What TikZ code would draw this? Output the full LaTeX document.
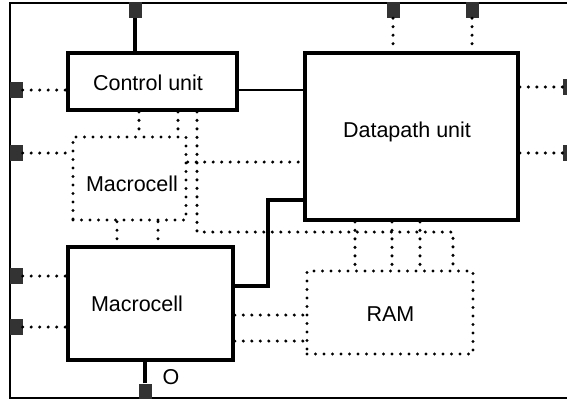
\documentclass[tikz,border=0pt]{standalone}
\usepackage{fontspec}
\setmainfont{Liberation Sans}
\begin{document}
\begin{tikzpicture}[x=1pt,y=-1pt,
  box/.style={draw=black,line width=3.6pt,fill=white,inner sep=0pt},
  dbox/.style={draw=black,line width=3.4pt,line cap=round,dash pattern=on 0pt off 8.5pt,inner sep=0pt},
  pin/.style={fill=black!80,draw=none,inner sep=0pt,minimum width=13pt,minimum height=16pt},
  dot/.style={line width=3.4pt,line cap=round,dash pattern=on 0pt off 8.5pt},
  wire/.style={line width=3.6pt},
  lbl/.style={font=\fontsize{21.5}{24}\selectfont,inner sep=0pt}]
\useasboundingbox (0,0) rectangle (567,400);
\draw[line width=2.2pt] (10,3) rectangle (580,398);
% pins
\node[pin] (pT1) at (135,10) {};
\node[pin] (pT2) at (393,10) {};
\node[pin] (pT3) at (472,10) {};
\node[pin] (pL1) at (16,90) {};
\node[pin] (pL2) at (16,153) {};
\node[pin] (pL3) at (16,276) {};
\node[pin] (pL4) at (16,327) {};
\node[pin,minimum width=10pt] (pR1) at (568,87) {};
\node[pin,minimum width=10pt] (pR2) at (568,153) {};
\node[pin,minimum height=15pt] (pB) at (145,391) {};
% boxes
\node[box,minimum width=169pt,minimum height=57pt] (cu) at (152.5,81.5) {};
\node[lbl] (cut) at (148,83) {Control unit};
\node[box,minimum width=213pt,minimum height=167pt] (dp) at (411.5,136.5) {};
\node[lbl] (dpt) at (407,132) {Datapath unit};
\node[dbox,minimum width=113pt,minimum height=83pt] (mc1) at (129.5,178.5) {};
\node[lbl] (mc1t) at (132,184) {Macrocell};
\node[box,minimum width=165pt,minimum height=113pt] (mc2) at (150.5,303.5) {};
\node[lbl] (mc2t) at (137,304) {Macrocell};
\node[dbox,minimum width=166pt,minimum height=83pt] (ram) at (390,312.5) {};
\node[lbl] (ramt) at (390.5,314) {RAM};
\node[lbl] (olbl) at (171,377) {O};
% solid connectors
\draw[wire] (pT1.south) -- (pT1.south |- cu.north);
\draw[line width=2.4pt] (pL1 -| cu.east) -- (pL1 -| dp.west);
\coordinate (k1) at (268,286);
\coordinate (k2) at (268,200);
\draw[wire] (k1 -| mc2.east) -- (k1) -- (k2) -- (k2 -| dp.west);
\draw[wire] (pB.north) -- (pB.north |- mc2.south);
% dotted connectors
\draw[dot] (pL1.east) -- (pL1 -| cu.west);
\draw[dot] (pL2.east) -- (pL2 -| mc1.west);
\draw[dot] (pL3.east) -- (pL3 -| mc2.west);
\draw[dot] (pL4.east) -- (pL4 -| mc2.west);
\draw[dot] (pT2.south) -- (pT2.south |- dp.north);
\draw[dot] (pT3.south) -- (pT3.south |- dp.north);
\draw[dot] (pR1 -| dp.east) -- (pR1.west);
\draw[dot] (pR2 -| dp.east) -- (pR2.west);
\coordinate (c1) at (139,0);
\coordinate (c2) at (178,0);
\draw[dot] (c1 |- cu.south) -- (c1 |- mc1.north);
\draw[dot] (c2 |- cu.south) -- (c2 |- mc1.north);
\coordinate (c3) at (197,232);
\coordinate (c4) at (453,232);
\draw[dot] (c3 |- cu.south) -- (c3) -- (c4) -- (c4 |- ram.north);
\coordinate (c5) at (0,162);
\draw[dot] (c5 -| mc1.east) -- (c5 -| dp.west);
\coordinate (c6) at (117,0);
\coordinate (c7) at (158,0);
\draw[dot] (c6 |- mc1.south) -- (c6 |- mc2.north);
\draw[dot] (c7 |- mc1.south) -- (c7 |- mc2.north);
\coordinate (c8) at (0,315);
\coordinate (c9) at (0,341);
\draw[dot] (c8 -| mc2.east) -- (c8 -| ram.west);
\draw[dot] (c9 -| mc2.east) -- (c9 -| ram.west);
\foreach \xx [count=\i] in {355,392,420} {
  \coordinate (r\i) at (\xx,0);
  \draw[dot] (r\i |- dp.south) -- (r\i |- ram.north);
}
\end{tikzpicture}
\end{document}
